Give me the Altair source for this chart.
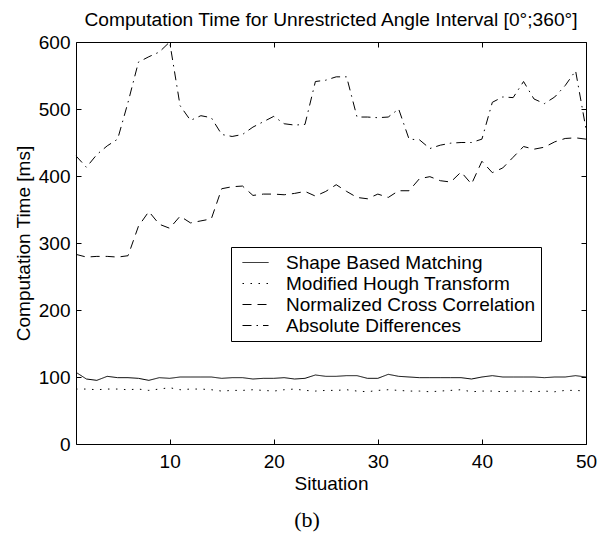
import altair as alt
import pandas as pd

# ---------------- data ----------------
situations = list(range(1, 51))

series_names = [
    "Shape Based Matching",
    "Modified Hough Transform",
    "Normalized Cross Correlation",
    "Absolute Differences",
]

shape_based = [107, 97, 95, 101, 99, 99, 98, 95, 99, 98,
               100, 100, 100, 100, 98, 99, 99, 97, 98, 98,
               99, 97, 98, 103, 101, 101, 102, 102, 98, 98,
               104, 101, 100, 99, 99, 99, 99, 99, 97, 100,
               102, 100, 100, 100, 100, 99, 100, 100, 102, 100]

hough = [82, 82, 81, 82, 82, 81, 82, 80, 82, 84,
         81, 82, 82, 81, 79, 80, 80, 81, 80, 79,
         81, 82, 80, 79, 80, 80, 81, 79, 78, 80,
         81, 80, 79, 79, 78, 79, 80, 81, 78, 79,
         79, 78, 79, 79, 78, 79, 78, 80, 80, 79]

ncc = [283, 279, 280, 280, 279, 281, 325, 347, 328, 322,
       340, 330, 333, 336, 381, 384, 385, 371, 373, 373,
       372, 374, 377, 370, 377, 387, 377, 368, 366, 373,
       368, 378, 378, 396, 399, 393, 391, 406, 388, 422,
       405, 412, 428, 444, 440, 443, 451, 456, 457, 455]

absdiff = [430, 413, 432, 445, 455, 510, 570, 578, 585, 600,
           505, 483, 490, 487, 462, 459, 462, 473, 481, 489,
           478, 476, 477, 541, 543, 548, 548, 488, 488, 487,
           488, 500, 455, 454, 441, 446, 449, 450, 450, 455,
           510, 518, 517, 541, 515, 508, 518, 535, 557, 470]

x_ticks = [10, 20, 30, 40, 50]
y_ticks = [0, 100, 200, 300, 400, 500, 600]

title_text = "Computation Time for Unrestricted Angle Interval [0°;360°]"
x_title = "Situation"
y_title = "Computation Time [ms]"
caption_text = ["(b)"]

# ---------------- styles ----------------
dashes = [[1, 0], [1.5, 6.5], [9, 6], [9, 5, 1.5, 5]]
FONT = "Liberation Sans"

rows = []
for name, vals in zip(series_names, [shape_based, hough, ncc, absdiff]):
    for s, v in zip(situations, vals):
        rows.append({"Situation": s, "Time": v, "Method": name})
df = pd.DataFrame(rows)

xscale = alt.Scale(domain=[1, 50], nice=False, zero=False)
yscale = alt.Scale(domain=[0, 600], nice=False)

lines = alt.Chart(df).mark_line(color="black", strokeWidth=1).encode(
    x=alt.X("Situation:Q", scale=xscale,
            axis=alt.Axis(orient="bottom", values=x_ticks, offset=-5, tickSize=5,
                          labelPadding=8, labelBaseline="top", labelOverlap=False,
                          labelFlush=False, title=x_title, titleX=255, titleY=50,
                          titleAlign="center", titleBaseline="alphabetic")),
    y=alt.Y("Time:Q", scale=yscale,
            axis=alt.Axis(orient="left", values=y_ticks, offset=-5, tickSize=5,
                          labelPadding=6, labelOverlap=False, labelFlush=False,
                          title=y_title, titleX=-52, titleY=201, titleAngle=270,
                          titleAlign="center", titleBaseline="alphabetic")),
    strokeDash=alt.StrokeDash(
        "Method:N",
        scale=alt.Scale(domain=series_names, range=dashes),
        sort=series_names,
        legend=alt.Legend(title=None, orient="none", legendX=155, legendY=205,
                          direction="vertical", symbolType="stroke", symbolSize=676,
                          symbolStrokeWidth=1, symbolStrokeColor="black",
                          labelFont=FONT, labelFontSize=19, labelColor="black",
                          labelOffset=17, symbolOffset=6, padding=5, rowPadding=0,
                          clipHeight=21,
                          strokeColor="black", fillColor="white", labelLimit=400)),
)

frame_axes = alt.Chart(df).mark_line(strokeOpacity=0).encode(
    x=alt.X("Situation:Q", scale=xscale,
            axis=alt.Axis(orient="top", values=x_ticks, offset=-5, tickSize=5,
                          labels=False, title=None)),
    y=alt.Y("Time:Q", scale=yscale,
            axis=alt.Axis(orient="right", values=y_ticks, offset=-5, tickSize=5,
                          labels=False, title=None)),
    detail="Method:N",
)

caption = alt.Chart(pd.DataFrame({"t": caption_text})).mark_text(
    font="Liberation Serif", fontSize=22, align="center", baseline="alphabetic",
    color="black"
).encode(text="t:N", x=alt.value(231), y=alt.value(485))

chart = alt.layer(lines, frame_axes, caption).resolve_axis(
    x="independent", y="independent"
).properties(
    width=510, height=402, autosize="none",
    padding={"left": 76, "top": 42, "right": 21, "bottom": 90},
    title=alt.TitleParams(text=title_text, font=FONT, fontSize=19.2, fontWeight="normal",
                          anchor="middle", offset=15, dy=27, baseline="alphabetic",
                          color="black"),
).configure_view(
    stroke="black", strokeWidth=1
).configure_axis(
    labelFont=FONT, labelFontSize=19, labelColor="black",
    titleFont=FONT, titleFontSize=19, titleFontWeight="normal", titleColor="black",
    tickColor="black", tickWidth=1, grid=False, domain=False
)

chart.save("out.html", embed_options={"renderer": "svg", "actions": False})
